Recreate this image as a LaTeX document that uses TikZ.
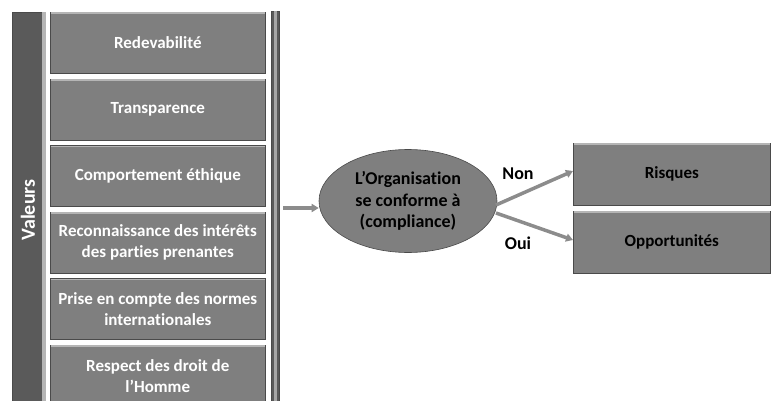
\documentclass[tikz,border=0pt]{standalone}
\usepackage{fontspec}
\setmainfont{Carlito}[Ligatures=NoCommon]
\usetikzlibrary{arrows.meta,shapes.geometric}
\definecolor{boxgray}{HTML}{7F7F7F}
\definecolor{bargray}{HTML}{5A5A5A}
\definecolor{edgelight}{HTML}{B5B5B5}
\definecolor{edgedark}{HTML}{4A4A4A}
\definecolor{arrowgray}{HTML}{8C8C8C}
\tikzset{
  valbox/.style={draw=edgedark, line width=0.6pt, fill=boxgray, minimum width=215pt, minimum height=61pt,
     inner sep=0pt, text=white, font=\bfseries\fontsize{17}{21}\selectfont, align=center, anchor=north west},
  resbox/.style={valbox, minimum width=197pt, minimum height=62pt, text=black},
  ovalbox/.style={ellipse, draw=edgedark, line width=0.6pt, fill=boxgray, minimum width=178pt, minimum height=103pt,
     inner sep=0pt, text=black, font=\bfseries\fontsize{18}{21.5}\selectfont, align=center},
  fatarrow/.style={draw=arrowgray, line width=3.5pt, -{Triangle[length=7pt,width=8pt]}},
  lbl/.style={font=\bfseries\fontsize{18}{20}\selectfont, text=black}
}
\begin{document}
\begin{tikzpicture}[x=1pt,y=-1pt]
\useasboundingbox (0,0) rectangle (776,401);
\clip (0,0) rectangle (776,401);
% Valeurs bar
\node[draw=edgedark, fill=bargray, minimum width=30pt, minimum height=400pt, inner sep=0pt, anchor=north west] (valeurs) at (12,12) {};
\fill[edgelight] (42,12) rectangle (46,412);
\node[rotate=90, text=white, font=\bfseries\fontsize{20}{24}\selectfont] (vlabel) at (28,210) {Valeurs};
% right thin bar
\node[draw=edgedark, fill=bargray, minimum width=8pt, minimum height=400pt, inner sep=0pt, anchor=north west] (rbar) at (271,11) {};
\fill[gray!70] (274,11) rectangle (277,412);
% value boxes
\node[valbox] (b1) at (50,12) {Redevabilité};
\node[valbox] (b2) at (50,78.6) {Transparence};
\node[valbox] (b3) at (50,145.2) {Comportement éthique};
\node[valbox] (b4) at (50,211.8) {Reconnaissance des intérêts\\des parties prenantes};
\node[valbox] (b5) at (50,278.4) {Prise en compte des normes\\internationales};
\node[valbox] (b6) at (50,345) {Respect des droit de\\l’Homme};
\foreach \n in {b1,b2,b3,b4,b5,b6}{
  \draw[edgelight, line width=1.5pt] ([xshift=1pt,yshift=-1.2pt]\n.north west) -- ([xshift=-1pt,yshift=-1.2pt]\n.north east);
}
% ellipse
\node[ovalbox] (org) at (408,201) {L’Organisation\\se conforme à\\(compliance)};
% result boxes
\node[resbox] (risk) at (573,143) {Risques};
\node[resbox] (opp) at (573,211) {Opportunités};
\foreach \n in {risk,opp}{
  \draw[edgelight, line width=1.5pt] ([xshift=1pt,yshift=-1.2pt]\n.north west) -- ([xshift=-1pt,yshift=-1.2pt]\n.north east);
}
% arrows
\coordinate (astart) at (283,208);
\coordinate (nstart) at (496,205);
\coordinate (ostart) at (496,213);
\draw[fatarrow] (astart) -- (org.west |- astart);
\draw[fatarrow] (nstart) -- (risk.west |- 0,171);
\draw[fatarrow] (ostart) -- (opp.west |- 0,240);
\node[lbl] (non) at (518,174) {Non};
\node[lbl] (oui) at (518,243) {Oui};
\end{tikzpicture}
\end{document}
